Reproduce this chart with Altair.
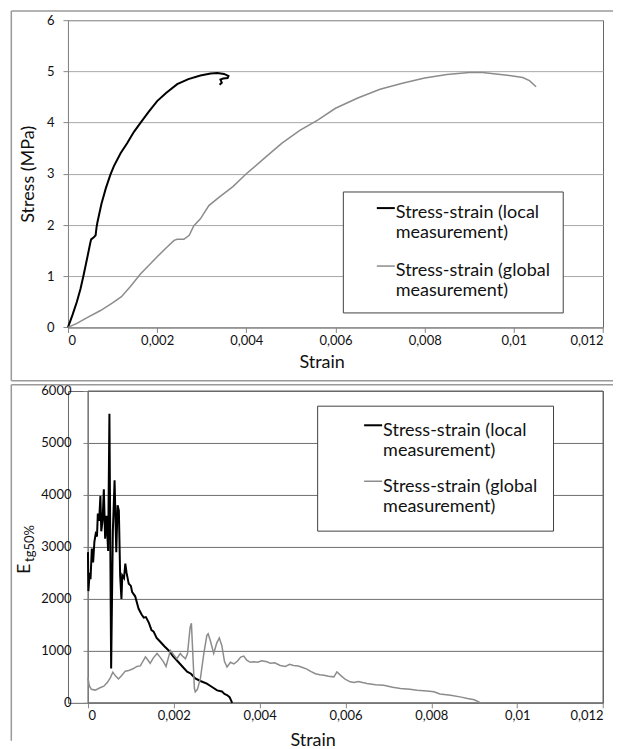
import altair as alt
import pandas as pd

# ---------------- data ----------------
series_names = ["Stress-strain (local measurement)", "Stress-strain (global measurement)"]

# top panel: stress vs strain
top_local_strain = [0, 0.0001, 0.0002, 0.00028, 0.00035, 0.00043, 0.0005, 0.00052, 0.00058, 0.00062,
                    0.00064, 0.00066, 0.00075, 0.00085, 0.00095, 0.00103, 0.00118, 0.00133, 0.00148,
                    0.00163, 0.0018, 0.002, 0.0022, 0.00245, 0.0027, 0.00297, 0.0032, 0.00335, 0.0035,
                    0.0036, 0.00358, 0.00348, 0.00342, 0.00345, 0.0034]
top_local_stress = [0, 0.24, 0.5, 0.75, 1.02, 1.35, 1.65, 1.72, 1.76, 1.8,
                    1.95, 2.05, 2.41, 2.72, 2.98, 3.15, 3.4, 3.6, 3.82,
                    4.0, 4.2, 4.42, 4.58, 4.75, 4.85, 4.92, 4.96, 4.97, 4.95,
                    4.91, 4.87, 4.86, 4.84, 4.78, 4.74]
top_global_strain = [0, 0.0002, 0.00043, 0.00073, 0.001, 0.0012, 0.0014, 0.00163, 0.0018, 0.002,
                     0.0022, 0.00238, 0.00245, 0.0026, 0.00272, 0.00282, 0.00297, 0.00316, 0.0034,
                     0.0037, 0.004, 0.0044, 0.0048, 0.0052, 0.0056, 0.006, 0.0065, 0.007, 0.0075,
                     0.008, 0.0085, 0.009, 0.0093, 0.0096, 0.0099, 0.0102, 0.01035, 0.0105]
top_global_stress = [0, 0.08, 0.19, 0.33, 0.48, 0.6, 0.8, 1.05, 1.2, 1.38,
                     1.55, 1.7, 1.72, 1.72, 1.8, 1.98, 2.12, 2.38, 2.55,
                     2.75, 3.0, 3.3, 3.6, 3.85, 4.05, 4.28, 4.48, 4.65, 4.77,
                     4.87, 4.94, 4.98, 4.98, 4.95, 4.92, 4.88, 4.82, 4.7]

# bottom panel: E_tg50% vs strain
bot_local_strain = [0, 0.00001, 0.00004, 0.00006, 0.00009, 0.00012, 0.00015, 0.00018, 0.00021, 0.00023,
                    0.00026, 0.00029, 0.00031, 0.00034, 0.00037, 0.0004, 0.00043, 0.00047, 0.0005,
                    0.00054, 0.00058, 0.00062, 0.00066, 0.00069, 0.00072, 0.00075, 0.00078, 0.0008,
                    0.00084, 0.00087, 0.0009, 0.00095, 0.001, 0.00103, 0.0011, 0.00118, 0.00125,
                    0.0013, 0.00135, 0.00142, 0.00148, 0.00153, 0.0016, 0.00169, 0.00178, 0.00184,
                    0.0019, 0.00198, 0.0021, 0.0022, 0.00231, 0.0024, 0.0025, 0.00262, 0.00277,
                    0.0029, 0.00301, 0.00312, 0.00318, 0.00324, 0.0033, 0.00336]
bot_local_E = [2900, 2150, 2500, 2380, 2970, 2700, 3100, 3250, 3200, 3640,
               3500, 3980, 3300, 3500, 4110, 3160, 3600, 2920, 5560,
               660, 3300, 4280, 2900, 3800, 3700, 2450, 2000, 2450,
               2400, 2680, 2500, 2290, 2250, 2130, 2050, 1810, 1700,
               1640, 1650, 1540, 1400, 1370, 1250, 1170, 1090, 1040,
               990, 900, 790, 700, 600, 560, 470, 420, 370,
               300, 240, 220, 170, 150, 110, 0]
bot_global_strain = [0, 0.00003, 0.00008, 0.00017, 0.00028, 0.00037, 0.00045, 0.00052, 0.00058, 0.00064,
                     0.00071, 0.00078, 0.00087, 0.00095, 0.00106, 0.00114, 0.00122, 0.00128, 0.00134,
                     0.0014, 0.00145, 0.00152, 0.00161, 0.00168, 0.00176, 0.00182, 0.00192, 0.002,
                     0.00207, 0.00215, 0.0022, 0.00227, 0.00232, 0.00238, 0.00241, 0.00244, 0.00248,
                     0.0025, 0.00255, 0.00262, 0.0027, 0.00277, 0.0028, 0.00285, 0.00293, 0.003,
                     0.00306, 0.00312, 0.00318, 0.00324, 0.00332, 0.0034, 0.00348, 0.00356, 0.00363,
                     0.0037, 0.00378, 0.00386, 0.00395, 0.00405, 0.00417, 0.00425, 0.00435, 0.00448,
                     0.0046, 0.0047, 0.00479, 0.0049, 0.005, 0.0051, 0.0052, 0.0053, 0.0054, 0.0055,
                     0.0056, 0.00573, 0.0058, 0.0059, 0.006, 0.00611, 0.0062, 0.0063, 0.0064, 0.0065,
                     0.0067, 0.00689, 0.0071, 0.00728, 0.0075, 0.00767, 0.0079, 0.00806, 0.0082,
                     0.00845, 0.0087, 0.00884, 0.009, 0.00915]
bot_global_E = [480, 330, 260, 245, 290, 320, 390, 480, 590, 520,
                460, 520, 610, 620, 660, 700, 710, 800, 885,
                820, 760, 860, 950, 880, 790, 700, 1010, 920,
                850, 950, 900, 850, 950, 1450, 1530, 1000, 280,
                210, 260, 470, 950, 1300, 1330, 1200, 950, 1150,
                1250, 1100, 800, 690, 780, 750, 800, 880, 900,
                820, 780, 790, 780, 810, 790, 760, 770, 720,
                700, 740, 720, 710, 680, 650, 600, 560, 540, 530,
                510, 500, 596, 520, 450, 404, 390, 410, 390, 372,
                350, 340, 300, 276, 260, 244, 230, 212, 170,
                148, 110, 83, 60, 0]

x_ticks = [0, 0.002, 0.004, 0.006, 0.008, 0.01, 0.012]
top_y_ticks = [0, 1, 2, 3, 4, 5, 6]
bot_y_ticks = [0, 1000, 2000, 3000, 4000, 5000, 6000]
top_titles = ["Strain", "Stress (MPa)"]
bot_title_parts = ["Strain", "E", "tg50%"]


def frame_df(strain_a, val_a, strain_b, val_b):
    rows = []
    for i, (s, v) in enumerate(zip(strain_a, val_a)):
        rows.append({"strain": s, "value": v, "series": series_names[0], "order": i})
    for i, (s, v) in enumerate(zip(strain_b, val_b)):
        rows.append({"strain": s, "value": v, "series": series_names[1], "order": i})
    return pd.DataFrame(rows)


top_df = frame_df(top_local_strain, top_local_stress, top_global_strain, top_global_stress)
bot_df = frame_df(bot_local_strain, bot_local_E, bot_global_strain, bot_global_E)
one = pd.DataFrame({"k": [0]})

FONT = "Lato"
W = 535.3
H1 = 307.4
H2 = 312.0
SHIFT = 20  # bottom plot area starts 20px further right
LBL = "replace(format(datum.value, '~g'), '.', ',')"
LEG_LBL = "[slice(datum.label, 0, indexof(datum.label, ' measurement')), 'measurement)']"

color_scale = alt.Scale(domain=series_names, range=["#000000", "#8c8c8c"])
width_scale = alt.Scale(domain=series_names, range=[2.0, 1.5])


def legend(x, y, pad, sym_off, row_pad):
    return alt.Legend(orient="none", legendX=x, legendY=y, title=None,
                      strokeColor="#404040", fillColor="white", padding=pad,
                      symbolType="M-1,-0.6L1,-0.6", symbolSize=324, symbolStrokeWidth=1,
                      symbolOffset=sym_off, labelFont=FONT, labelFontSize=18, labelColor="#111",
                      labelLimit=700, labelExpr=LEG_LBL, labelBaseline="middle",
                      rowPadding=row_pad, labelOffset=0)


# ---------------- top panel ----------------
top_lines = alt.Chart(top_df).mark_line().encode(
    x=alt.X("strain:Q", scale=alt.Scale(domain=[0, 0.012], nice=False),
            axis=alt.Axis(values=x_ticks, labelExpr=LBL, title=top_titles[0], grid=False,
                          titleX=253.8, titleY=40, titleAlign="center", titleBaseline="alphabetic")),
    y=alt.Y("value:Q", scale=alt.Scale(domain=[0, 6], nice=False),
            axis=alt.Axis(values=top_y_ticks, title=top_titles[1], grid=True, gridColor="#a8a8a8",
                          titleX=-34.5, titleY=H1 / 2, titleAngle=270, titleAlign="center",
                          titleBaseline="alphabetic", labelPadding=9)),
    color=alt.Color("series:N", scale=color_scale, legend=legend(275, 171.4, 12, 21, 19)),
    strokeWidth=alt.StrokeWidth("series:N", scale=width_scale, legend=None),
    order="order:Q",
)

top_outer = alt.Chart(one).mark_rule(color="#9a9a9a", strokeWidth=1.5).encode(
    x=alt.value(-56.7), x2=alt.value(W + 10), y=alt.value(-9.3))
top_outer_l = alt.Chart(one).mark_rule(color="#9a9a9a", strokeWidth=1.5).encode(
    x=alt.value(-56.7), y=alt.value(-9.3), y2=alt.value(360.7))
top_outer_b = alt.Chart(one).mark_rule(color="#9a9a9a", strokeWidth=1.5).encode(
    x=alt.value(-56.7), x2=alt.value(W + 10), y=alt.value(360.7))

top = alt.layer(top_outer, top_outer_l, top_outer_b, top_lines).properties(width=W, height=H1)

# ---------------- bottom panel ----------------
bot_lines = alt.Chart(bot_df).mark_line().encode(
    x=alt.X("strain:Q", scale=alt.Scale(domain=[0, 0.012], nice=False, range=[SHIFT, W]),
            axis=alt.Axis(values=x_ticks, labelExpr=LBL, title=bot_title_parts[0], grid=False,
                          titleX=244.8, titleY=43, titleAlign="center", titleBaseline="alphabetic")),
    y=alt.Y("value:Q", scale=alt.Scale(domain=[0, 6000], nice=False),
            axis=alt.Axis(values=bot_y_ticks, labelExpr=LBL, title=None, grid=True, gridColor="#6e6e6e",
                          offset=-SHIFT, labelPadding=12)),
    color=alt.Color("series:N", scale=color_scale, legend=legend(249.3, 14.7, 15, 31, 17)),
    strokeWidth=alt.StrokeWidth("series:N", scale=width_scale, legend=None),
    order="order:Q",
)

bot_plot_frame = alt.Chart(one).mark_rect(fill=None, stroke="#666666", strokeWidth=1).encode(
    x=alt.value(SHIFT), x2=alt.value(W), y=alt.value(0), y2=alt.value(H2))

bot_outer_t = alt.Chart(one).mark_rule(color="#9a9a9a", strokeWidth=1.5).encode(
    x=alt.value(-56.7), x2=alt.value(W + 10), y=alt.value(-6.3))
bot_outer_l = alt.Chart(one).mark_rule(color="#9a9a9a", strokeWidth=1.5).encode(
    x=alt.value(-56.7), y=alt.value(-6.3), y2=alt.value(350))

e_main = alt.Chart(one).mark_text(font=FONT, fontSize=18, angle=270, align="left",
                                  baseline="alphabetic", color="#111").encode(
    x=alt.value(-37.5), y=alt.value(183), text=alt.value(bot_title_parts[1]))
e_sub = alt.Chart(one).mark_text(font=FONT, fontSize=13, angle=270, align="left",
                                 baseline="alphabetic", color="#111").encode(
    x=alt.value(-33.5), y=alt.value(171), text=alt.value(bot_title_parts[2]))

bottom = alt.layer(bot_outer_t, bot_outer_l, bot_plot_frame, bot_lines, e_main, e_sub).properties(
    width=W, height=H2)

chart = alt.vconcat(top, bottom, spacing=1).resolve_scale(
    color="independent", strokeWidth="independent"
).configure(
    padding={"left": 2, "top": 1, "right": 0, "bottom": 0},
    font=FONT,
).configure_view(
    stroke="#666666", strokeWidth=1
).configure_axis(
    labelFont=FONT, labelFontSize=13, labelColor="#111",
    titleFont=FONT, titleFontSize=18, titleColor="#111", titleFontWeight="normal",
    domainColor="#868686", tickColor="#868686", tickSize=5,
)

chart.save("out.html", embed_options={"renderer": "svg", "actions": False})
